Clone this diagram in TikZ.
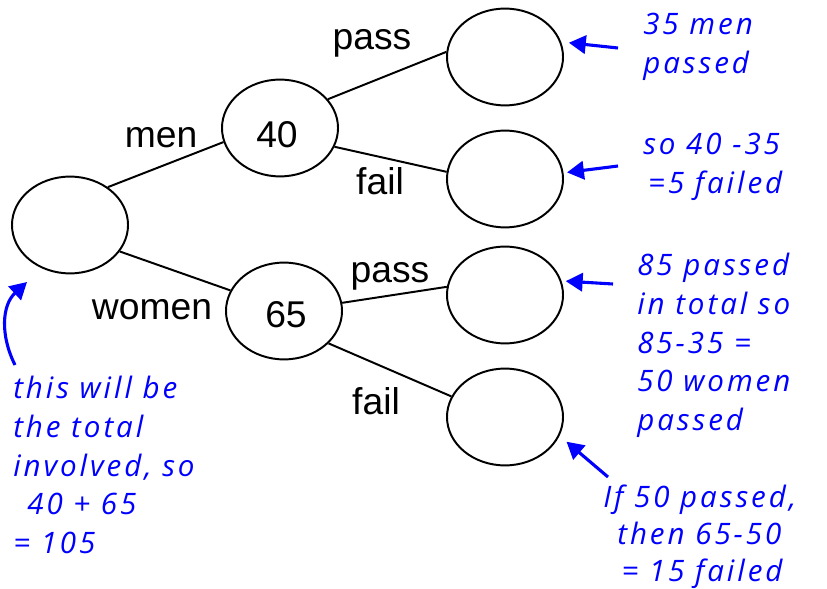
\documentclass[tikz,border=0pt]{standalone}
\usepackage{fontspec}
\setmainfont{Liberation Sans}
\newfontfamily\handfont[LetterSpace=10]{Open Sans}
\usetikzlibrary{shapes.geometric,arrows.meta}

\tikzset{
  bubble/.style={draw, ellipse, line width=1.4pt, minimum width=2.9cm, minimum height=2.42cm, inner sep=0pt},
  branch/.style={line width=1.4pt},
  lbl/.style={anchor=base, font=\fontsize{26.5}{30}\selectfont},
  note/.style={anchor=north west, align=left, inner sep=0pt, text=blue, font=\handfont\itshape\fontsize{21}{27.5}\selectfont},
  pointer/.style={draw=blue, line width=2.2pt, -{Triangle[length=12pt,width=13pt]}}
}

\begin{document}
\begin{tikzpicture}[x=0.025cm, y=-0.025cm]
\useasboundingbox (0,0) rectangle (827,589);

% the tree
\node[bubble] (root) at (70,225) {};
\node[bubble] (n40) at (280,128) {};
\node[bubble] (n65) at (284,311) {};
\node[bubble] (mp) at (505,57) {};
\node[bubble] (mf) at (505,179) {};
\node[bubble] (wp) at (505,295) {};
\node[bubble] (wf) at (505,417) {};

\node[lbl] (t40) at (277,148) {40};
\node[lbl] (t65) at (286,328) {65};

\draw[branch] (root.45) -- (n40.194);
\draw[branch] (root.332) -- (n65.159);
\draw[branch] (n40.31) -- (mp.175);
\draw[branch] (n40.341) -- (mf.173);
\draw[branch] (n65.8) -- (wp.172);
\draw[branch] (n65.324) -- (wf.159);

\node[lbl] (pass1) at (372,50) {pass};
\node[lbl] (men) at (161,148) {men};
\node[lbl] (fail1) at (380,195) {fail};
\node[lbl] (pass2) at (390,283) {pass};
\node[lbl] (women) at (152,320) {women};
\node[lbl] (fail2) at (376,414) {fail};

% notes
\node[note] (note1) at (643,13) {35 men\\passed};
\node[note] (note2) at (643,133) {so 40 -35\\\hspace*{3.5pt}=5 failed};
\node[note] (note3) at (637,253) {85 passed\\in total so\\85-35 =\\50 women\\passed};
\node[note] (note4) at (13,376) {this will be\\the total\\involved, so\\\hspace*{10pt}40 + 65\\= 105};
\node[note, font=\handfont\itshape\fontsize{21}{26}\selectfont] (note5) at (603,485) {If 50 passed,\\\hspace*{10pt}then 65-50\\\hspace*{13pt}= 15 failed};

\coordinate (a1) at (618,48);
\coordinate (a2) at (618,166);
\coordinate (a3) at (613,284);
\coordinate (a4) at (608,477);
\coordinate (a5) at (15,365);
\coordinate (h5) at (27,282);

\draw[pointer, shorten >=5.5pt] (a1) -- (mp.15);
\draw[pointer, shorten >=2.5pt] (a2) -- (mf.6);
\draw[pointer, shorten >=3pt] (a3) -- (wp.14);
\draw[pointer, shorten >=6.5pt] (a4) -- (wf.341);
\draw[pointer] (a5) .. controls (0,335) and (2,305) .. (h5);
\end{tikzpicture}
\end{document}
